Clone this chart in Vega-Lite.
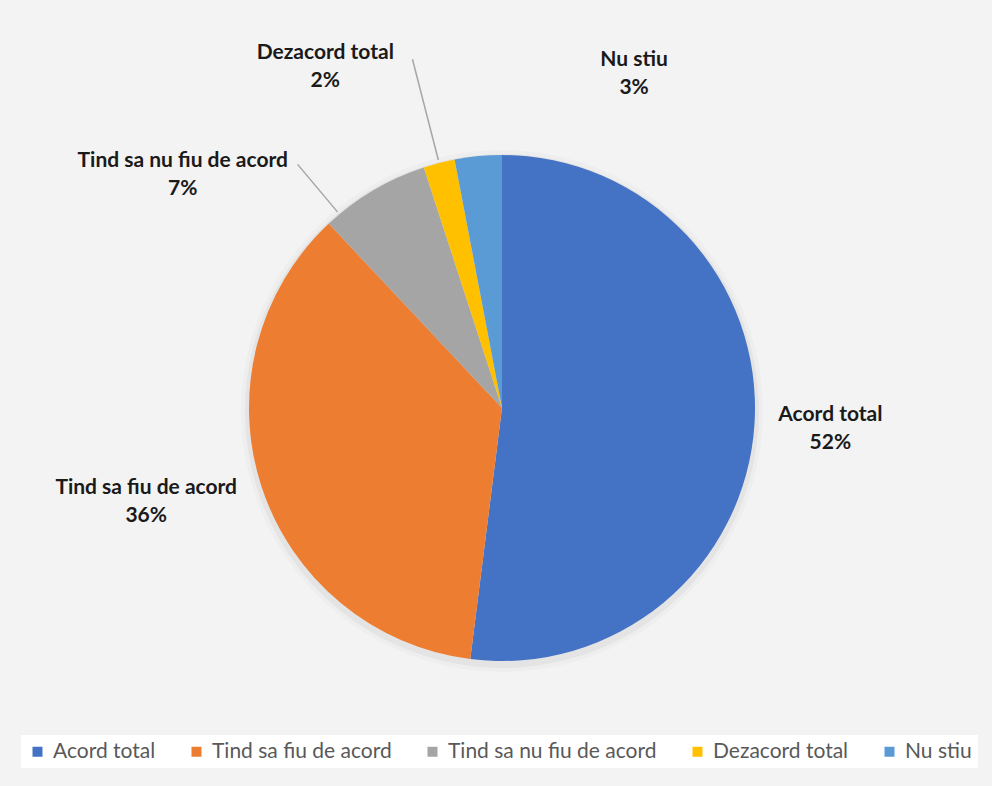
{
  "$schema": "https://vega.github.io/schema/vega-lite/v6.json",
  "width": 972,
  "height": 756,
  "autosize": {"type": "none"},
  "padding": {"left": 16, "top": 30, "right": 4, "bottom": 0},
  "background": "#f3f3f3",
  "config": {"view": {"stroke": null}},
  "data": {
    "values": [
      {"cat": "Acord total", "pct": 0.52, "k": 1},
      {"cat": "Tind sa fiu de acord", "pct": 0.36, "k": 2},
      {"cat": "Tind sa nu fiu de acord", "pct": 0.07, "k": 3},
      {"cat": "Dezacord total", "pct": 0.02, "k": 4},
      {"cat": "Nu stiu", "pct": 0.03, "k": 5}
    ]
  },
  "encoding": {
    "theta": {"field": "pct", "type": "quantitative", "stack": true},
    "order": {"field": "k", "type": "quantitative"}
  },
  "layer": [
    {
      "mark": {"type": "arc", "outerRadius": 261, "yOffset": 3, "color": "#000000", "opacity": 0.02, "stroke": null}
    },
    {
      "mark": {"type": "arc", "outerRadius": 257, "yOffset": 3, "color": "#000000", "opacity": 0.04, "stroke": null}
    },
    {
      "mark": {"type": "arc", "outerRadius": 253, "stroke": null},
      "encoding": {
        "color": {
          "field": "cat",
          "type": "nominal",
          "sort": ["Acord total", "Tind sa fiu de acord", "Tind sa nu fiu de acord", "Dezacord total", "Nu stiu"],
          "scale": {
            "domain": ["Acord total", "Tind sa fiu de acord", "Tind sa nu fiu de acord", "Dezacord total", "Nu stiu"],
            "range": ["#4472C4", "#ED7D31", "#A5A5A5", "#FFC000", "#5B9BD5"]
          },
          "legend": {
            "orient": "none",
            "legendX": 5,
            "legendY": 705,
            "direction": "horizontal",
            "columns": 5,
            "title": null,
            "symbolType": "square",
            "symbolSize": 100,
            "symbolStrokeWidth": 0,
            "labelFont": "Lato",
            "labelFontSize": 21,
            "labelColor": "#595959",
            "labelLimit": 400,
            "labelOffset": 5,
            "columnPadding": 30,
            "padding": 6,
            "fillColor": "#ffffff"
          }
        }
      }
    },
    {
      "mark": {"type": "arc", "filled": false, "stroke": "#a6a6a6", "strokeWidth": 1.5, "padAngle": 3, "radius": 256, "radius2": 360},
      "encoding": {
        "strokeOpacity": {"condition": {"test": "datum.cat === 'Dezacord total'", "value": 1}, "value": 0}
      }
    },
    {
      "mark": {"type": "arc", "filled": false, "stroke": "#a6a6a6", "strokeWidth": 1.5, "padAngle": 3, "radius": 256, "radius2": 318, "thetaOffset": -0.164},
      "encoding": {
        "strokeOpacity": {"condition": {"test": "datum.cat === 'Tind sa nu fiu de acord'", "value": 1}, "value": 0}
      }
    },
    {
      "mark": {"type": "text", "radius": 329, "thetaOffset": 0, "dy": -14, "font": "Lato", "fontWeight": "bold", "fontSize": 21, "color": "#1a1a1a"},
      "encoding": {"text": {"condition": {"test": "datum.cat === 'Acord total'", "field": "cat", "type": "nominal"}, "value": ""}}
    },
    {
      "mark": {"type": "text", "radius": 329, "thetaOffset": 0, "dy": 14, "font": "Lato", "fontWeight": "bold", "fontSize": 21, "color": "#1a1a1a"},
      "encoding": {"text": {"condition": {"test": "datum.cat === 'Acord total'", "field": "pct", "type": "quantitative", "format": ".0%"}, "value": ""}}
    },
    {
      "mark": {"type": "text", "radius": 368, "thetaOffset": 0.056, "dy": -14, "font": "Lato", "fontWeight": "bold", "fontSize": 21, "color": "#1a1a1a"},
      "encoding": {"text": {"condition": {"test": "datum.cat === 'Tind sa fiu de acord'", "field": "cat", "type": "nominal"}, "value": ""}}
    },
    {
      "mark": {"type": "text", "radius": 368, "thetaOffset": 0.056, "dy": 14, "font": "Lato", "fontWeight": "bold", "fontSize": 21, "color": "#1a1a1a"},
      "encoding": {"text": {"condition": {"test": "datum.cat === 'Tind sa fiu de acord'", "field": "pct", "type": "quantitative", "format": ".0%"}, "value": ""}}
    },
    {
      "mark": {"type": "text", "radius": 395, "thetaOffset": -0.407, "dy": -14, "font": "Lato", "fontWeight": "bold", "fontSize": 21, "color": "#1a1a1a"},
      "encoding": {"text": {"condition": {"test": "datum.cat === 'Tind sa nu fiu de acord'", "field": "cat", "type": "nominal"}, "value": ""}}
    },
    {
      "mark": {"type": "text", "radius": 395, "thetaOffset": -0.407, "dy": 14, "font": "Lato", "fontWeight": "bold", "fontSize": 21, "color": "#1a1a1a"},
      "encoding": {"text": {"condition": {"test": "datum.cat === 'Tind sa nu fiu de acord'", "field": "pct", "type": "quantitative", "format": ".0%"}, "value": ""}}
    },
    {
      "mark": {"type": "text", "radius": 384, "thetaOffset": -0.227, "dy": -14, "font": "Lato", "fontWeight": "bold", "fontSize": 21, "color": "#1a1a1a"},
      "encoding": {"text": {"condition": {"test": "datum.cat === 'Dezacord total'", "field": "cat", "type": "nominal"}, "value": ""}}
    },
    {
      "mark": {"type": "text", "radius": 384, "thetaOffset": -0.227, "dy": 14, "font": "Lato", "fontWeight": "bold", "fontSize": 21, "color": "#1a1a1a"},
      "encoding": {"text": {"condition": {"test": "datum.cat === 'Dezacord total'", "field": "pct", "type": "quantitative", "format": ".0%"}, "value": ""}}
    },
    {
      "mark": {"type": "text", "radius": 359, "thetaOffset": 0.471, "dy": -14, "font": "Lato", "fontWeight": "bold", "fontSize": 21, "color": "#1a1a1a"},
      "encoding": {"text": {"condition": {"test": "datum.cat === 'Nu stiu'", "field": "cat", "type": "nominal"}, "value": ""}}
    },
    {
      "mark": {"type": "text", "radius": 359, "thetaOffset": 0.471, "dy": 14, "font": "Lato", "fontWeight": "bold", "fontSize": 21, "color": "#1a1a1a"},
      "encoding": {"text": {"condition": {"test": "datum.cat === 'Nu stiu'", "field": "pct", "type": "quantitative", "format": ".0%"}, "value": ""}}
    }
  ]
}
